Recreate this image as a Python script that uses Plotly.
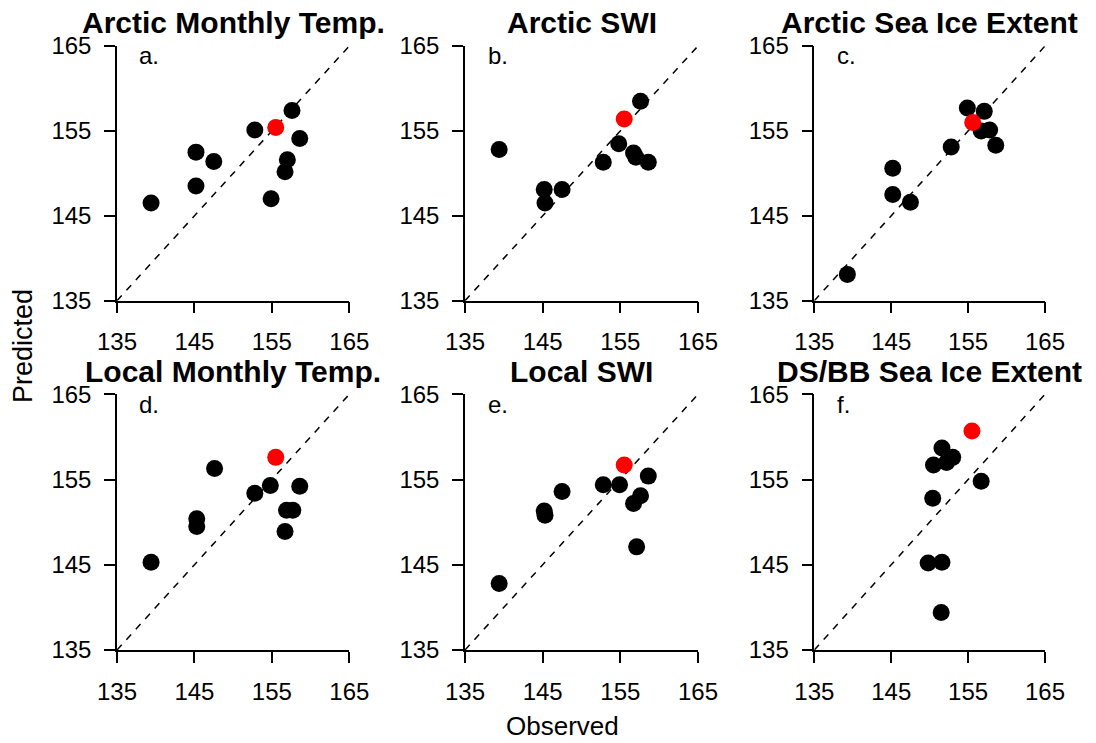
import plotly.graph_objects as go

# Panel titles and letters
titles = ["Arctic Monthly Temp.", "Arctic SWI", "Arctic Sea Ice Extent",
          "Local Monthly Temp.", "Local SWI", "DS/BB Sea Ice Extent"]
letters = ["a.", "b.", "c.", "d.", "e.", "f."]

# Observed vs predicted (black: hindcast years, red: highlighted year)
obs_a = [139.4, 145.2, 147.5, 145.2, 152.8, 157.6, 158.6, 157.0, 156.7, 154.9]
pred_a = [146.5, 152.5, 151.4, 148.5, 155.1, 157.4, 154.1, 151.6, 150.2, 147.0]
red_a = (155.5, 155.4)

obs_b = [139.4, 145.2, 145.3, 147.5, 152.8, 154.8, 157.6, 156.7, 157.0, 158.6]
pred_b = [152.8, 148.1, 146.5, 148.1, 151.3, 153.5, 158.5, 152.4, 151.9, 151.3]
red_b = (155.5, 156.4)

obs_c = [139.3, 145.2, 145.2, 147.5, 152.8, 154.9, 157.1, 156.7, 157.8, 158.6]
pred_c = [138.1, 150.6, 147.5, 146.6, 153.1, 157.7, 157.3, 155.0, 155.1, 153.3]
red_c = (155.6, 156.0)

obs_d = [139.4, 145.3, 145.3, 147.6, 152.8, 154.8, 158.6, 156.9, 157.7, 156.7]
pred_d = [145.3, 150.4, 149.5, 156.3, 153.4, 154.3, 154.2, 151.4, 151.4, 148.9]
red_d = (155.5, 157.6)

obs_e = [139.4, 145.2, 145.3, 147.5, 152.8, 154.9, 158.6, 157.6, 156.7, 157.1]
pred_e = [142.8, 151.3, 150.8, 153.6, 154.4, 154.4, 155.4, 153.1, 152.2, 147.1]
red_e = (155.5, 156.7)

obs_f = [151.5, 149.8, 151.6, 150.4, 150.5, 151.6, 152.2, 153.0, 156.7]
pred_f = [139.4, 145.2, 145.3, 152.8, 156.7, 158.7, 157.0, 157.6, 154.8]
red_f = (155.5, 160.7)

ticks = [135, 145, 155, 165]
axis_range = [135, 165]

panels = [(obs_a, pred_a, red_a), (obs_b, pred_b, red_b), (obs_c, pred_c, red_c),
          (obs_d, pred_d, red_d), (obs_e, pred_e, red_e), (obs_f, pred_f, red_f)]

W, H = 1096, 743
FONT = "Liberation Sans"
col_px = [(117, 349.3), (465, 698), (814.3, 1045)]
row_px = [(46, 300.7), (394.3, 650)]

fig = go.Figure()
layout = {}
annotations = []

for i, (obs, pred, red) in enumerate(panels):
    r, c = divmod(i, 3)
    n = "" if i == 0 else str(i + 1)
    xa, ya = "x" + n, "y" + n
    x0, x1 = col_px[c]
    y0, y1 = row_px[r]
    xdom = [x0 / W, x1 / W]
    ydom = [1 - y1 / H, 1 - y0 / H]

    # 1:1 reference line
    fig.add_trace(go.Scatter(x=axis_range, y=axis_range, mode="lines",
                             line=dict(color="black", width=1.5, dash="7px,7px"),
                             xaxis=xa, yaxis=ya, showlegend=False, hoverinfo="skip",
                             cliponaxis=False))
    fig.add_trace(go.Scatter(x=obs, y=pred, mode="markers",
                             marker=dict(color="black", size=17, line=dict(width=0)),
                             xaxis=xa, yaxis=ya, showlegend=False))
    fig.add_trace(go.Scatter(x=[red[0]], y=[red[1]], mode="markers",
                             marker=dict(color="#FF0000", size=17, line=dict(width=0)),
                             xaxis=xa, yaxis=ya, showlegend=False))

    common = dict(range=axis_range, tickvals=ticks, ticks="outside", ticklen=11,
                  tickwidth=1.5, tickcolor="black", showline=True, linewidth=1.5,
                  linecolor="black", showgrid=False, zeroline=False, automargin=False,
                  tickfont=dict(family=FONT, size=24, color="black"),
                  ticklabelstandoff=8, fixedrange=True)
    layout["xaxis" + n] = dict(domain=xdom, anchor=ya, **common)
    layout["yaxis" + n] = dict(domain=ydom, anchor=xa, **common)

    annotations.append(dict(text="<b>%s</b>" % titles[i], xref="paper", yref="paper",
                            x=(x0 + x1) / 2 / W, y=1 - (y0 - 23) / H,
                            xanchor="center", yanchor="middle", showarrow=False,
                            font=dict(family=FONT, size=30, color="black")))
    annotations.append(dict(text=letters[i], xref=xa + " domain", yref=ya + " domain",
                            x=0.088, y=0.962, xanchor="left", yanchor="middle",
                            showarrow=False,
                            font=dict(family=FONT, size=24, color="black")))

annotations.append(dict(text="Predicted", xref="paper", yref="paper",
                        x=23 / W, y=1 - 346 / H, textangle=-90,
                        xanchor="center", yanchor="middle", showarrow=False,
                        font=dict(family=FONT, size=27, color="black")))
annotations.append(dict(text="Observed", xref="paper", yref="paper",
                        x=562 / W, y=1 - 726 / H,
                        xanchor="center", yanchor="middle", showarrow=False,
                        font=dict(family=FONT, size=26, color="black")))

fig.update_layout(width=W, height=H, margin=dict(l=0, r=0, t=0, b=0),
                  paper_bgcolor="white", plot_bgcolor="white",
                  annotations=annotations, **layout)

fig.write_html("out.html")
